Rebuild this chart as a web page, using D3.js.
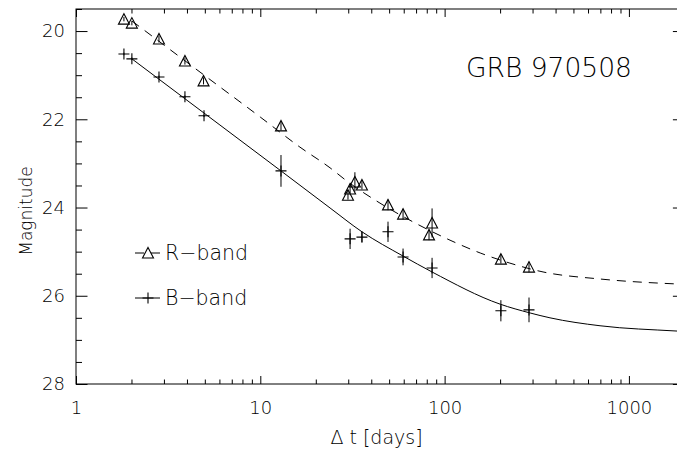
<!DOCTYPE html>
<html>
<head>
<meta charset="utf-8">
<script src="https://cdn.jsdelivr.net/npm/d3@7"></script>
<style>
  html, body { margin: 0; padding: 0; background: #fff; }
  svg { display: block; }
  text { font-family: 'DejaVu Sans ExtraLight', 'DejaVu Sans', 'Liberation Sans', sans-serif; font-weight: 200; fill: #000; }
</style>
</head>
<body>
<svg id="chart" width="677" height="451"></svg>
<script>
// ---- data ----
const titleText = "GRB 970508";
const xLabel = "\u0394 t [days]";
const yLabel = "Magnitude";

// R-band observations
const rTime = [1.82, 2.01, 2.82, 3.90, 4.92, 12.95, 29.9, 30.7, 32.6, 35.6, 49.3, 59.5, 82.3, 85.5, 202, 287];
const rMag  = [19.73, 19.82, 20.18, 20.68, 21.13, 22.15, 23.72, 23.58, 23.42, 23.49, 23.94, 24.15, 24.62, 24.35, 25.17, 25.35];
const rErr  = [0.05, 0.05, 0.08, 0.08, 0.08, 0.10, 0.10, 0.10, 0.22, 0.10, 0.12, 0.12, 0.12, 0.33, 0.10, 0.12];

// B-band observations
const bTime = [1.82, 2.01, 2.82, 3.90, 4.95, 12.95, 30.7, 35.6, 49.3, 59.5, 85.5, 202, 287];
const bMag  = [20.52, 20.63, 21.04, 21.49, 21.92, 23.17, 24.71, 24.67, 24.55, 25.12, 25.37, 26.34, 26.32];
const bErr  = [0.03, 0.03, 0.03, 0.03, 0.03, 0.36, 0.23, 0.12, 0.23, 0.19, 0.23, 0.24, 0.28];

// fitted light-curve models
const rFitTime = [2.01, 4.71, 10.0, 16.4, 23.9, 29.5, 44.6, 69.1, 107, 156, 226, 342, 697, 2000];
const rFitMag  = [19.77, 20.93, 21.95, 22.63, 23.10, 23.40, 23.90, 24.35, 24.74, 25.03, 25.26, 25.46, 25.62, 25.74];
const bFitTime = [2.01, 6.04, 12.95, 23.9, 35.6, 59.5, 85.4, 200, 291, 373, 697, 1824, 2000];
const bFitMag  = [20.63, 22.13, 23.17, 24.01, 24.55, 25.10, 25.46, 26.19, 26.39, 26.50, 26.68, 26.80, 26.81];

// axes
const xDomain = [1, 2000];
const yDomain = [19.5, 28];
const xMajorTicks = [1, 10, 100, 1000];
const xTickLabels = ["1", "10", "100", "1000"];
const yMajorTicks = [20, 22, 24, 26, 28];
const yTickLabels = ["20", "22", "24", "26", "28"];
const legendLabels = ["R\u2212band", "B\u2212band"];

// ---- layout ----
const pL = 76, pR = 684.4, pT = 9, pB = 384;
const svg = d3.select("#chart");
const x = d3.scaleLog().domain(xDomain).range([pL, pR]);
const y = d3.scaleLinear().domain(yDomain).range([pT, pB]);

const xMinor = [];
for (let d = 1; d < 2000; d *= 10) for (let k = 2; k <= 9; k++) if (d * k <= 2000) xMinor.push(d * k);
const yMinor = d3.range(19.5, 28.01, 0.5).filter(v => yMajorTicks.indexOf(v) < 0);

function styleAxis(g) {
  g.select(".domain").remove();
  g.selectAll(".tick line").attr("stroke", "#000").attr("stroke-width", 1);
  g.selectAll(".tick text").attr("font-size", 18)
    .attr("font-family", "'DejaVu Sans ExtraLight', 'DejaVu Sans', sans-serif")
    .attr("font-weight", 200).attr("fill", "#000");
}

// bottom axis
svg.append("g").attr("transform", `translate(0,${pB})`)
  .call(d3.axisBottom(x).tickValues(xMajorTicks).tickSize(-8).tickPadding(17)
    .tickFormat((d, i) => xTickLabels[i]))
  .call(styleAxis);
svg.append("g").attr("transform", `translate(0,${pB})`)
  .call(d3.axisBottom(x).tickValues(xMinor).tickSize(-4.5).tickFormat(""))
  .call(styleAxis);
// top axis
svg.append("g").attr("transform", `translate(0,${pT})`)
  .call(d3.axisTop(x).tickValues(xMajorTicks).tickSize(-8).tickFormat(""))
  .call(styleAxis);
svg.append("g").attr("transform", `translate(0,${pT})`)
  .call(d3.axisTop(x).tickValues(xMinor).tickSize(-4.5).tickFormat(""))
  .call(styleAxis);
// left axis
svg.append("g").attr("transform", `translate(${pL},0)`)
  .call(d3.axisLeft(y).tickValues(yMajorTicks).tickSize(-11.5).tickPadding(11)
    .tickFormat((d, i) => yTickLabels[i]))
  .call(styleAxis);
svg.append("g").attr("transform", `translate(${pL},0)`)
  .call(d3.axisLeft(y).tickValues(yMinor).tickSize(-6).tickFormat(""))
  .call(styleAxis);
// right axis
svg.append("g").attr("transform", `translate(${pR},0)`)
  .call(d3.axisRight(y).tickValues(yMajorTicks).tickSize(-11.5).tickFormat(""))
  .call(styleAxis);
svg.append("g").attr("transform", `translate(${pR},0)`)
  .call(d3.axisRight(y).tickValues(yMinor).tickSize(-6).tickFormat(""))
  .call(styleAxis);

// frame
svg.append("rect").attr("x", pL).attr("y", pT)
  .attr("width", pR - pL).attr("height", pB - pT)
  .attr("fill", "none").attr("stroke", "#000").attr("stroke-width", 1);

// model curves
const line = d3.line().x(d => x(d[0])).y(d => y(d[1])).curve(d3.curveMonotoneX);
svg.append("path").datum(rFitTime.map((t, i) => [t, rFitMag[i]]))
  .attr("d", line).attr("fill", "none").attr("stroke", "#000").attr("stroke-width", 1)
  .attr("stroke-dasharray", "9,7");
svg.append("path").datum(bFitTime.map((t, i) => [t, bFitMag[i]]))
  .attr("d", line).attr("fill", "none").attr("stroke", "#000").attr("stroke-width", 1);

// symbols
const triPath = "M-5.5,5 L0,-5.5 L5.5,5 Z";
const plusPath = "M-5.5,0 H5.5 M0,-5.5 V5.5";

function drawSeries(ts, ms, es, symbol) {
  const g = svg.append("g");
  const data = ts.map((t, i) => ({t: t, m: ms[i], e: es[i]}));
  g.selectAll("line.err").data(data).enter().append("line")
    .attr("x1", d => x(d.t)).attr("x2", d => x(d.t))
    .attr("y1", d => y(d.m - d.e)).attr("y2", d => y(d.m + d.e))
    .attr("stroke", "#000").attr("stroke-width", 1);
  g.selectAll("path.sym").data(data).enter().append("path")
    .attr("transform", d => `translate(${x(d.t)},${y(d.m)})`)
    .attr("d", symbol).attr("fill", "none").attr("stroke", "#000").attr("stroke-width", 1.1);
}
drawSeries(rTime, rMag, rErr, triPath);
drawSeries(bTime, bMag, bErr, plusPath);

// legend
const legY = [253, 298];
svg.append("line").attr("x1", 135).attr("x2", 160).attr("y1", legY[0]).attr("y2", legY[0])
  .attr("stroke", "#000").attr("stroke-dasharray", "9,7");
svg.append("path").attr("transform", `translate(148,${legY[0]})`).attr("d", triPath)
  .attr("fill", "none").attr("stroke", "#000").attr("stroke-width", 1.1);
svg.append("line").attr("x1", 135).attr("x2", 160).attr("y1", legY[1]).attr("y2", legY[1])
  .attr("stroke", "#000");
svg.append("path").attr("transform", `translate(148,${legY[1]})`).attr("d", plusPath)
  .attr("fill", "none").attr("stroke", "#000").attr("stroke-width", 1.1);
legendLabels.forEach((s, i) => {
  svg.append("text").attr("x", 165).attr("y", legY[i]).attr("dy", "0.36em")
    .attr("font-size", 20.5).text(s);
});

// title
svg.append("text").attr("x", 466).attr("y", 77).attr("font-size", 26.5).text(titleText);

// axis labels
svg.append("text").attr("x", (pL + 677) / 2).attr("y", 444).attr("text-anchor", "middle")
  .attr("font-size", 19).text(xLabel);
svg.append("text").attr("transform", "translate(32,211) rotate(-90)").attr("text-anchor", "middle")
  .attr("font-size", 17).text(yLabel);
</script>
</body>
</html>
